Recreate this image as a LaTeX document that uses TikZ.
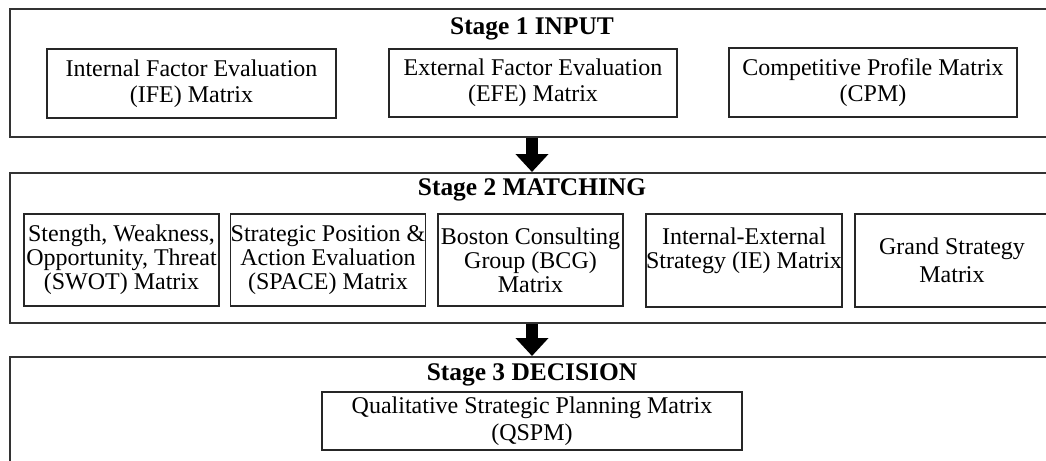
\documentclass[tikz,border=0pt]{standalone}
\usepackage{fontspec}
\setmainfont{Liberation Serif}
\usetikzlibrary{arrows.meta}
\tikzset{
  stagebox/.style={draw=black!80, line width=1pt, minimum width=522pt, inner sep=0pt},
  stagetitle/.style={font=\fontsize{12.7}{14}\selectfont\bfseries, inner sep=0pt},
  matbox/.style={draw=black!85, line width=0.8pt, align=center, inner sep=0pt,
    font=\fontsize{12}{12}\selectfont},
  flowarrow/.style={line width=6pt, -{Triangle[length=9pt,width=16pt]}}
}

\begin{document}
\begin{tikzpicture}[x=0.5pt,y=-0.5pt]
		%%%%% START %%%%%
		\clip (0,0) rectangle (1046,461);
		\fill[white] (0,0) rectangle (1046,461);
		
		% stage frames
		\node[stagebox, minimum height=64pt] (inbox) at (532,73) {};
		\node[stagebox, minimum height=75pt] (matchbox) at (532,248) {};
		\node[stagebox, minimum height=62pt] (decbox) at (532,419) {};
		
		% stage 1
		\node[stagetitle] (intitle) at (532,29) {Stage 1 INPUT};
		\node[matbox, minimum width=144.5pt, minimum height=34.5pt, font=\fontsize{12}{12.8}\selectfont] (ife) at (191.5,83.5) {Internal Factor Evaluation\\(IFE) Matrix};
		\node[matbox, minimum width=144pt, minimum height=34pt, font=\fontsize{12}{12.8}\selectfont] (efe) at (533,83) {External Factor Evaluation\\(EFE) Matrix};
		\node[matbox, minimum width=144pt, minimum height=34.5pt, font=\fontsize{12}{12.8}\selectfont] (cpm) at (873,82.5) {Competitive Profile Matrix\\(CPM)};
		
		% stage 2
		\node[stagetitle] (matchtitle) at (532,190) {Stage 2 MATCHING};
		\node[matbox, minimum width=97.5pt, minimum height=46pt] (swot) at (121.5,260) {Stength, Weakness,\\Opportunity, Threat\\(SWOT) Matrix};
		\node[matbox, minimum width=97pt, minimum height=46pt] (space) at (328,260) {Strategic Position \&\\Action Evaluation\\(SPACE) Matrix};
		\node[matbox, minimum width=92.5pt, minimum height=46pt] (bcg) at (530.5,260) {Boston Consulting\\Group (BCG)\\Matrix};
		\node[matbox, minimum width=97pt, minimum height=46.5pt] (ie) at (744,260.5) {Internal-External\\Strategy (IE) Matrix\\\mbox{}};
		\node[matbox, minimum width=97pt, minimum height=46.5pt] (grand) at (952,260.5) {Grand Strategy\\[2pt]Matrix};
		
		% stage 3
		\node[stagetitle] (dectitle) at (532,375) {Stage 3 DECISION};
		\node[matbox, minimum width=210pt, minimum height=29pt, font=\fontsize{12}{13.5}\selectfont] (qspm) at (532,421) {Qualitative Strategic Planning Matrix\\(QSPM)};
		
		% arrows
		\draw[flowarrow] (inbox.south -| intitle) -- (matchbox.north -| intitle);
		\draw[flowarrow] (matchbox.south -| matchtitle) -- (decbox.north -| matchtitle);
		
		%%%%% END %%%%%
	\end{tikzpicture}
\end{document}
